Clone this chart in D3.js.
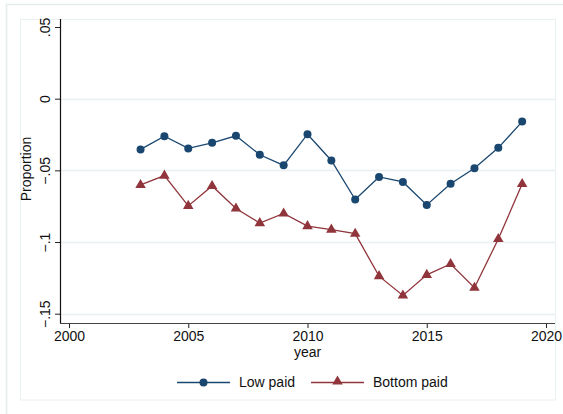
<!DOCTYPE html>
<html>
<head>
<meta charset="utf-8">
<script src="https://cdn.jsdelivr.net/npm/d3@7"></script>
<style>
  html, body { margin: 0; padding: 0; background: #fff; }
  svg { display: block; font-family: "Liberation Sans", Arial, Helvetica, sans-serif; }
</style>
</head>
<body>
<svg id="chart" width="563" height="414"></svg>
<script>
// Years and series values
const years = [2003, 2004, 2005, 2006, 2007, 2008, 2009, 2010, 2011, 2012, 2013, 2014, 2015, 2016, 2017, 2018, 2019];
const lowPaid = [-0.0354, -0.0262, -0.0347, -0.0308, -0.0259, -0.0391, -0.0465, -0.0248, -0.0431, -0.0704, -0.0546, -0.0581, -0.0741, -0.0593, -0.0486, -0.0343, -0.0160];
const bottomPaid = [-0.0602, -0.0537, -0.0748, -0.0609, -0.0766, -0.0868, -0.0801, -0.0889, -0.0914, -0.0942, -0.1238, -0.1373, -0.1229, -0.1153, -0.1319, -0.0979, -0.0595];

const xTicks = [2000, 2005, 2010, 2015, 2020];
const yTicks = [0.05, 0, -0.05, -0.1, -0.15];
const yGridTicks = [0, -0.05, -0.1, -0.15];
const seriesNames = ["Low paid", "Bottom paid"];

const navy = "#1a476f", maroon = "#90353b";
const gridColor = "#e9f0f1";
const fontSize = 14;

const svg = d3.select("#chart");

// outer and inner frames
svg.append("path").attr("d", "M6.5,414 V4.5 H563").attr("fill", "none").attr("stroke", "#e6edef").attr("stroke-width", 1.5);
svg.append("rect").attr("x", 20.5).attr("y", 19.5).attr("width", 535).attr("height", 380.5)
  .attr("fill", "none").attr("stroke", "#e9f0f1").attr("stroke-width", 1);

const x = d3.scaleLinear().domain([2000, 2020]).range([69, 546]);
const y = d3.scaleLinear().domain([-0.15, 0.05]).range([313.7, 27]);

const plotLeft = 60, plotRight = 555, plotTop = 19, plotBottom = 323;

// gridlines
svg.append("g").selectAll("line").data(yGridTicks).join("line")
  .attr("x1", plotLeft).attr("x2", plotRight)
  .attr("y1", d => Math.round(y(d)) + 0.5).attr("y2", d => Math.round(y(d)) + 0.5)
  .attr("stroke", gridColor).attr("stroke-width", 1.5);

const fmtY = d => d === 0 ? "0" : (d < 0 ? "\u2212" : "") + d3.format(".2~f")(Math.abs(d)).replace(/^0/, "");

// y axis
const yAxis = svg.append("g").attr("transform", `translate(${plotLeft},0)`)
  .call(d3.axisLeft(y).tickValues(yTicks).tickSize(5).tickPadding(3).tickFormat(fmtY));
yAxis.select(".domain").remove();
yAxis.append("line").attr("x1", 0.5).attr("x2", 0.5).attr("y1", plotTop).attr("y2", plotBottom)
  .attr("stroke", "#111").attr("stroke-width", 1.2);
yAxis.selectAll(".tick line").attr("stroke", "#222");
yAxis.selectAll(".tick text")
  .attr("font-size", fontSize).attr("fill", "#111")
  .attr("transform", "rotate(-90)")
  .attr("x", 0).attr("dy", 0).attr("y", -10)
  .attr("text-anchor", "middle");

// x axis
const xAxis = svg.append("g").attr("transform", `translate(0,${plotBottom})`)
  .call(d3.axisBottom(x).tickValues(xTicks).tickSize(5).tickPadding(3).tickFormat(d3.format("d")));
xAxis.select(".domain").remove();
xAxis.append("line").attr("x1", plotLeft).attr("x2", plotRight).attr("y1", 0.5).attr("y2", 0.5)
  .attr("stroke", "#444").attr("stroke-width", 1.2);
xAxis.selectAll(".tick line").attr("stroke", "#222");
xAxis.selectAll(".tick text").attr("font-size", fontSize).attr("fill", "#111");

// axis titles
svg.append("text").attr("transform", "translate(31,169) rotate(-90)")
  .attr("text-anchor", "middle").attr("font-size", fontSize).attr("fill", "#111").text("Proportion");
svg.append("text").attr("x", 307.5).attr("y", 357)
  .attr("text-anchor", "middle").attr("font-size", fontSize).attr("fill", "#111").text("year");

// series
const line = d3.line().x(d => x(d[0])).y(d => y(d[1]));
const lowData = years.map((yr, i) => [yr, lowPaid[i]]);
const botData = years.map((yr, i) => [yr, bottomPaid[i]]);
const tri = d3.symbol().type(d3.symbolTriangle).size(48);

svg.append("path").datum(lowData).attr("d", line).attr("fill", "none").attr("stroke", navy).attr("stroke-width", 1.3);
svg.append("path").datum(botData).attr("d", line).attr("fill", "none").attr("stroke", maroon).attr("stroke-width", 1.3);

svg.append("g").selectAll("circle").data(lowData).join("circle")
  .attr("cx", d => x(d[0])).attr("cy", d => y(d[1])).attr("r", 4).attr("fill", navy);
svg.append("g").selectAll("path").data(botData).join("path")
  .attr("d", tri).attr("transform", d => `translate(${x(d[0])},${y(d[1])})`).attr("fill", maroon);

// legend
const legend = svg.append("g").attr("transform", "translate(0,382.5)");
const items = [
  { name: seriesNames[0], color: navy, x0: 177, marker: "circle" },
  { name: seriesNames[1], color: maroon, x0: 311, marker: "triangle" }
];
items.forEach(it => {
  const g = legend.append("g").attr("transform", `translate(${it.x0},0)`);
  g.append("line").attr("x1", 0).attr("x2", 53).attr("y1", 0).attr("y2", 0).attr("stroke", it.color).attr("stroke-width", 1.3);
  if (it.marker === "circle") g.append("circle").attr("cx", 26.5).attr("cy", 0).attr("r", 4).attr("fill", it.color);
  else g.append("path").attr("d", tri).attr("transform", "translate(26.5,-1)").attr("fill", it.color);
  g.append("text").attr("x", 62).attr("y", 0).attr("dy", "0.35em").attr("font-size", fontSize).attr("fill", "#111").text(it.name);
});
</script>
</body>
</html>
